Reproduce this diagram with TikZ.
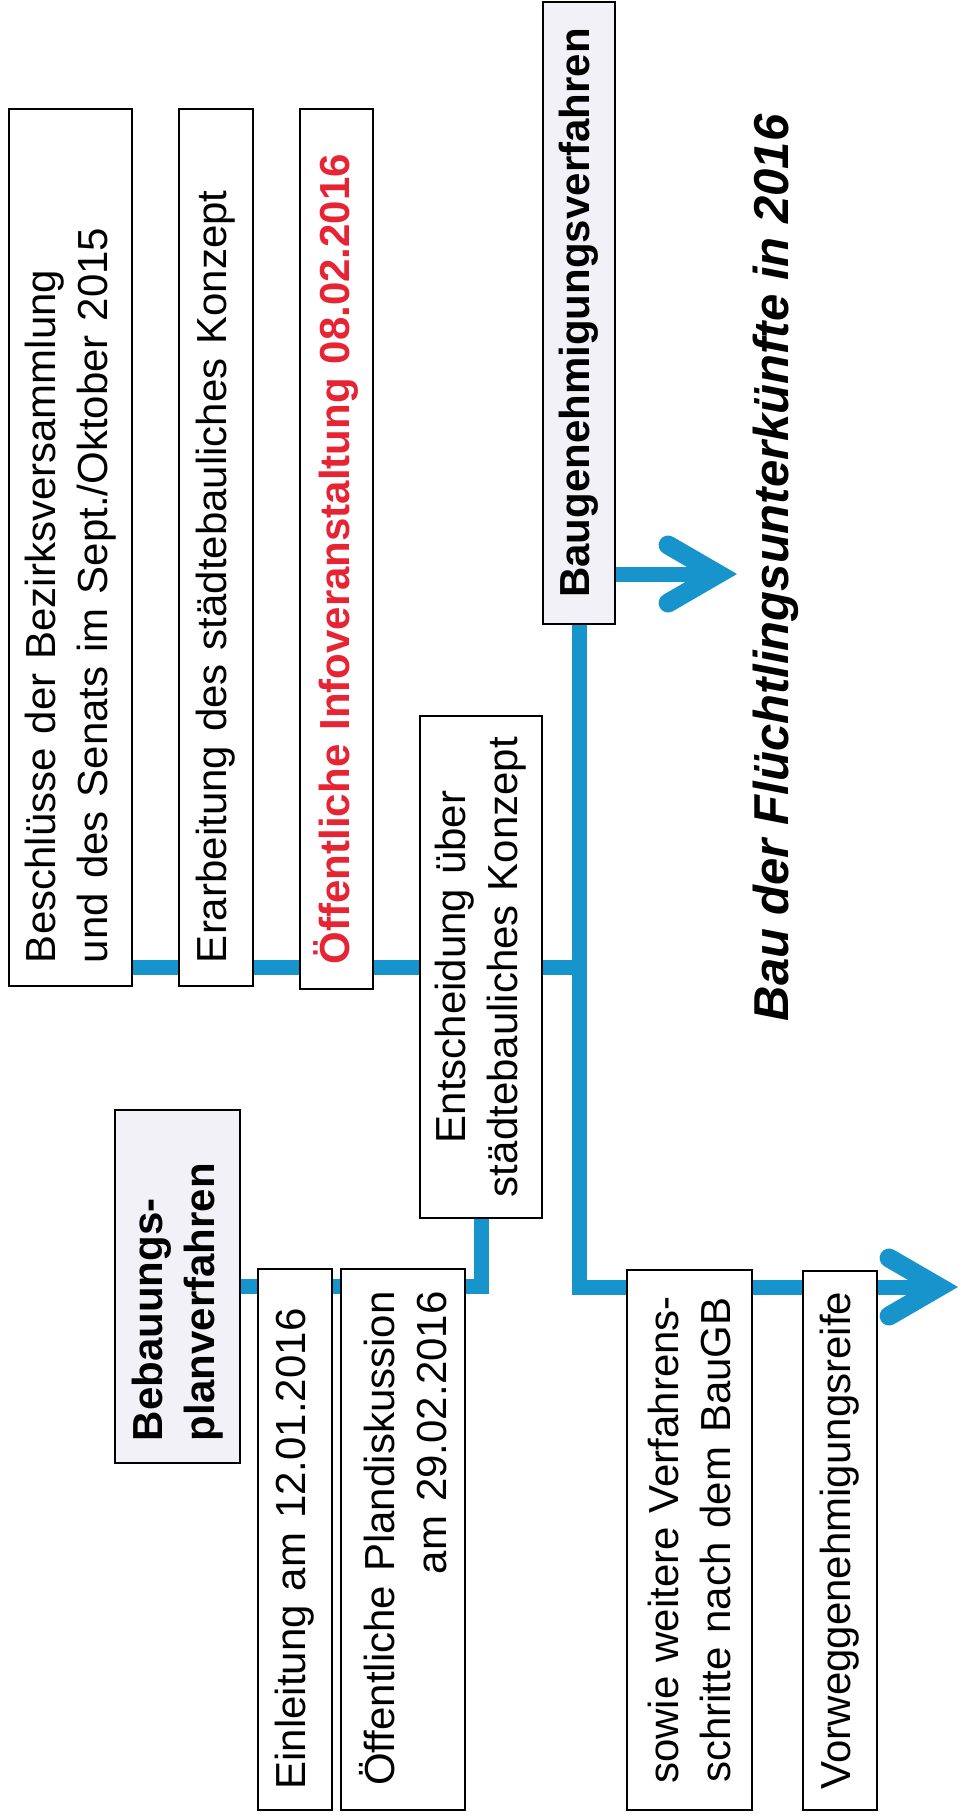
\documentclass[tikz,border=0pt]{standalone}
\usepackage{fontspec}
\setmainfont{Liberation Sans}
\usetikzlibrary{arrows.meta,backgrounds}
\definecolor{strangblau}{RGB}{24,148,204}
\definecolor{inforot}{RGB}{230,36,52}
\definecolor{kopfgrau}{RGB}{241,241,247}
\newcommand{\feldschrift}{\fontsize{42pt}{52pt}\selectfont}
\tikzset{
  feld/.style={rotate=90,draw=black,line width=1.6pt,fill=white,inner sep=0pt,font=\feldschrift},
  kopf/.style={feld,fill=kopfgrau,font=\feldschrift\bfseries},
  linie/.style={draw=strangblau,line width=15pt},
  pfeil/.style={linie,-{Straight Barb[length=50pt,width=58pt,line width'=19pt,line cap=round,line join=miter]}},
}

\begin{document}
\begin{tikzpicture}[x=1pt,y=-1pt]
  \useasboundingbox (0,0) rectangle (961,1817);
  \node[feld,minimum width=877pt,minimum height=123pt,text width=831pt,align=left] (beschl) at (70.5,547.5)
    {Beschlüsse der Bezirksversammlung\\und des Senats im Sept./Oktober 2015};
  \node[feld,minimum width=877pt,minimum height=74pt,text width=831pt,align=left] (erarb) at (216,547.5)
    {Erarbeitung des städtebauliches Konzept};
  \node[feld,minimum width=880pt,minimum height=73pt,text width=830pt,align=left,font=\feldschrift\bfseries,text=inforot] (info) at (336.5,549)
    {Öffentliche Infoveranstaltung 08.02.2016};
  \node[kopf,minimum width=622pt,minimum height=72pt,text width=580pt,align=center] (bauge) at (579,313)
    {Baugenehmigungsverfahren};
  \node[feld,minimum width=502pt,minimum height=122pt,text width=470pt,align=center] (ent) at (481,967)
    {Entscheidung über\\städtebauliches Konzept};
  \node[kopf,minimum width=353pt,minimum height=125pt,text width=309pt,align=left] (bebau) at (177.5,1286.5)
    {Bebauungs-\\planverfahren};
  \node[feld,minimum width=541pt,minimum height=74pt,text width=500pt,align=left] (einl) at (295,1539.5)
    {\mbox{Einleitung am 12.01.2016}};
  \node[feld,minimum width=541pt,minimum height=124pt,text width=496pt,align=right] (plan) at (403,1539.5)
    {Öffentliche Plandiskussion\\am 29.02.2016};
  \node[feld,minimum width=540pt,minimum height=125pt,text width=490pt,align=center] (sowie) at (689.5,1540)
    {sowie weitere Verfahrens-\\schritte nach dem BauGB};
  \node[feld,minimum width=539pt,minimum height=74pt,text width=505pt,align=center] (vorweg) at (840,1540.5)
    {Vorweggenehmigungsreife};
  \node[rotate=90,font=\fontsize{49pt}{58pt}\selectfont\bfseries\itshape] (titel) at (776,568)
    {Bau der Flüchtlingsunterkünfte in 2016};
  \coordinate (ziel) at (737,574);
  \coordinate (ende) at (958,1287);
  \begin{scope}[on background layer]
    \fill[white] (0,0) rectangle (961,1817);
    \draw[linie] (beschl.south |- ent.center) -- (ent.center -| bauge.west);
    \draw[linie] (bebau.south) -| (ent.west);
    \draw[pfeil] (bauge.west) |- (ende);
    \draw[pfeil] (bauge.south |- ziel) -- (ziel);
  \end{scope}
\end{tikzpicture}
\end{document}
